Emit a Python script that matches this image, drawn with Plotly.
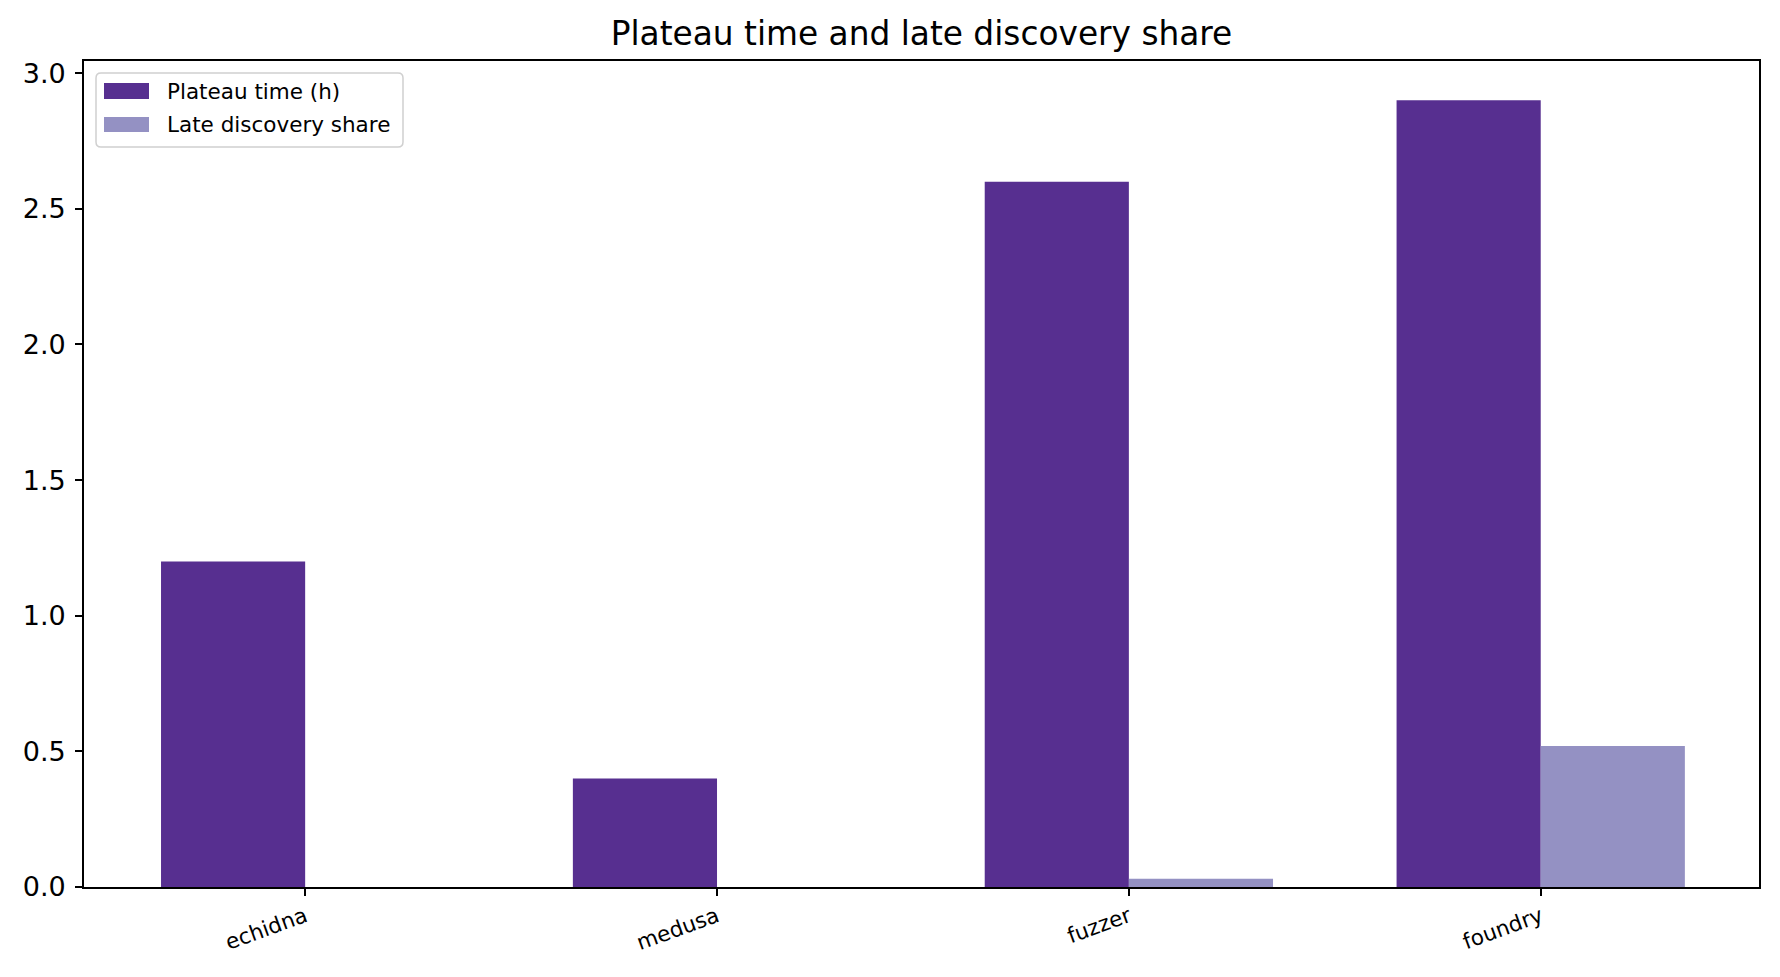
import plotly.graph_objects as go

categories = ["echidna", "medusa", "fuzzer", "foundry"]
plateau_time_h = [1.2, 0.4, 2.6, 2.9]
late_discovery_share = [0.0, 0.0, 0.03, 0.52]
series_names = ["Plateau time (h)", "Late discovery share"]
y_tick_values = [0.0, 0.5, 1.0, 1.5, 2.0, 2.5, 3.0]

W, H = 1780, 977
L, R, T, B = 84, 1759, 61, 887
DARK = "#572F90"
LIGHT = "#9491C3"
FONT = "DejaVu Sans"

x_idx = list(range(len(categories)))

fig = go.Figure()
fig.add_trace(go.Bar(x=x_idx, y=plateau_time_h, name=series_names[0],
                     marker=dict(color=DARK, line=dict(width=0)), showlegend=False))
fig.add_trace(go.Bar(x=x_idx, y=late_discovery_share, name=series_names[1],
                     marker=dict(color=LIGHT, line=dict(width=0)), showlegend=False))

def px_x(p):
    return (p - L) / (R - L)

def px_y(p):
    return 1 - (p - T) / (B - T)

# legend box with rounded corners
x0, x1, y0, y1, r = 96, 403, 73, 147, 5
def pt(x, y):
    return f"{px_x(x)},{px_y(y)}"
path = (f"M {pt(x0 + r, y0)} L {pt(x1 - r, y0)} Q {pt(x1, y0)} {pt(x1, y0 + r)} "
        f"L {pt(x1, y1 - r)} Q {pt(x1, y1)} {pt(x1 - r, y1)} "
        f"L {pt(x0 + r, y1)} Q {pt(x0, y1)} {pt(x0, y1 - r)} "
        f"L {pt(x0, y0 + r)} Q {pt(x0, y0)} {pt(x0 + r, y0)} Z")
shapes = [dict(type="path", xref="paper", yref="paper", path=path,
               fillcolor="rgba(255,255,255,0.8)", line=dict(color="#d0d0d0", width=1.5))]
annotations = []
rows = [(83, 99, DARK, series_names[0]), (117, 132, LIGHT, series_names[1])]
for (ya, yb, col, name) in rows:
    shapes.append(dict(type="rect", xref="paper", yref="paper",
                       x0=px_x(104), x1=px_x(149), y0=px_y(yb), y1=px_y(ya),
                       fillcolor=col, line=dict(width=0)))
    annotations.append(dict(xref="paper", yref="paper", x=px_x(165), y=px_y((ya + yb) / 2),
                            text=name, showarrow=False, xanchor="left", yanchor="middle",
                            font=dict(family=FONT, size=21.5, color="black")))

fig.update_layout(
    width=W, height=H,
    margin=dict(l=L, r=W - R, t=T, b=H - B, pad=0),
    paper_bgcolor="white", plot_bgcolor="white",
    barmode="group", bargap=0.3, bargroupgap=0,
    font=dict(family=FONT, color="black"),
    title=dict(text="Plateau time and late discovery share", x=0.5, xanchor="center",
               xref="paper",
               y=1 - 34 / H, yanchor="middle", yref="container",
               font=dict(family=FONT, size=32.8, color="black")),
    shapes=shapes,
    annotations=annotations,
    xaxis=dict(range=[-0.537, 3.53], tickvals=x_idx, ticktext=categories,
               tickangle=-20, tickfont=dict(family=FONT, size=21.5, color="black"),
               showgrid=False, zeroline=False, showline=True, linecolor="black",
               linewidth=1.6, mirror=True, ticks="outside", ticklen=7, tickwidth=1.5,
               tickcolor="black"),
    yaxis=dict(range=[0, 3.045], tickvals=y_tick_values, tickformat=".1f",
               tickfont=dict(family=FONT, size=27, color="black"),
               showgrid=False, zeroline=False, showline=True, linecolor="black",
               linewidth=1.6, mirror=True, ticks="outside", ticklen=7, tickwidth=1.5,
               tickcolor="black", ticklabelstandoff=4),
)

fig.write_html("out.html")
